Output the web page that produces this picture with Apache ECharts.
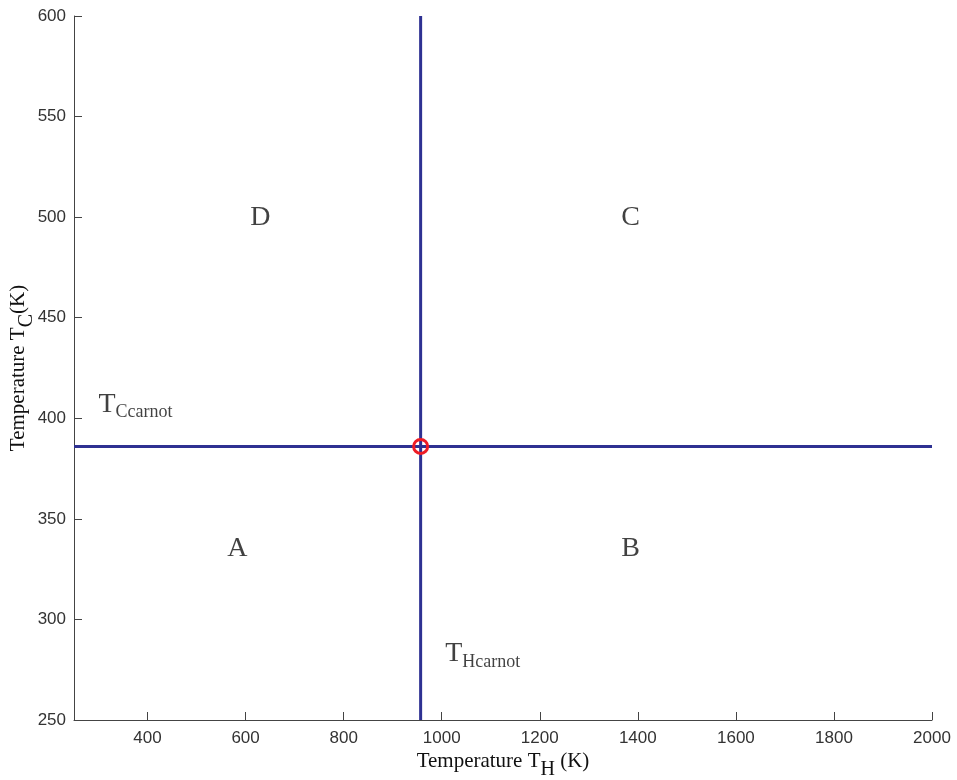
<!DOCTYPE html>
<html>
<head>
<meta charset="utf-8">
<script src="https://cdn.jsdelivr.net/npm/echarts@6/dist/echarts.min.js"></script>
<style>html,body{margin:0;padding:0;background:#fff}#c{width:957px;height:780px}</style>
</head>
<body>
<div id="c"></div>
<script>
// Data
const xTicks = [400, 600, 800, 1000, 1200, 1400, 1600, 1800, 2000];
const yTicks = [250, 300, 350, 400, 450, 500, 550, 600];
const carnotPoint = [957, 386];
const hLine = [[250, 386], [2000, 386]];
const vLine = [[957, 250], [957, 600]];
const regionLabels = ['A', 'B', 'C', 'D'];
const regionPos = [[583, 335], [1385, 335], [1385, 500], [630, 500]];
const carnotLabelNames = ['T_Ccarnot', 'T_Hcarnot'];
const carnotLabelPos = [[300, 406], [1007, 282]];

const serif = 'Liberation Serif';
const sans = 'Liberation Sans';
const blue = '#2E3192';
const txt = '#111';

const chart = echarts.init(document.getElementById('c'), null, {renderer: 'canvas'});

const subRich = {
  b: {fontFamily: serif, fontSize: 21, color: txt, verticalAlign: 'top'},
  s: {fontFamily: serif, fontSize: 20, color: txt, verticalAlign: 'top', padding: [9, 0, 0, 0]}
};

chart.setOption({
  animation: false,
  backgroundColor: '#fff',
  grid: {left: 74, right: 25, top: 16, bottom: 60, containLabel: false, outerBoundsMode: 'none'},
  xAxis: {
    type: 'value', min: 250, max: 2000,
    name: '{b|Temperature T}{s|H}{b| (K)}',
    nameLocation: 'middle', nameGap: 31, nameMoveOverlap: false,
    nameTextStyle: {rich: subRich},
    axisLine: {show: true, lineStyle: {color: '#444', width: 1}},
    axisTick: {show: true, inside: true, length: 8, lineStyle: {color: '#444'}, customValues: xTicks},
    axisLabel: {fontFamily: sans, fontSize: 17, color: '#333', margin: 10, customValues: xTicks,
      formatter: v => String(v)},
    splitLine: {show: false}
  },
  yAxis: {
    type: 'value', min: 250, max: 600, interval: 50,
    name: '{b|Temperature T}{s|C}{b|(K)}',
    nameLocation: 'middle', nameGap: 37, nameRotate: 90, nameMoveOverlap: false,
    nameTextStyle: {rich: subRich},
    axisLine: {show: true, lineStyle: {color: '#444', width: 1}},
    axisTick: {show: true, inside: true, length: 8, lineStyle: {color: '#444'}},
    axisLabel: {fontFamily: sans, fontSize: 17, color: '#333', margin: 8, customValues: yTicks,
      formatter: v => String(v)},
    splitLine: {show: false}
  },
  series: [
    {type: 'line', data: hLine, symbol: 'none', lineStyle: {color: blue, width: 3}, z: 2},
    {type: 'line', data: vLine, symbol: 'none', lineStyle: {color: blue, width: 3}, z: 2},
    {type: 'scatter', data: [carnotPoint], symbol: 'circle', symbolSize: 14,
      itemStyle: {color: 'rgba(0,0,0,0)', borderColor: '#EE1C25', borderWidth: 3, opacity: 1}, z: 5},
    {type: 'scatter', symbolSize: 0, z: 4,
      data: regionLabels.map((n, i) => ({name: n, value: regionPos[i]})),
      label: {show: true, position: 'inside', formatter: p => p.name,
        fontFamily: serif, fontSize: 28, color: txt}},
    {type: 'scatter', symbolSize: 0, z: 4,
      data: carnotLabelNames.map((n, i) => ({name: n, value: carnotLabelPos[i]})),
      label: {show: true, position: 'right', distance: 0,
        formatter: p => { const parts = p.name.split('_'); return '{T|' + parts[0] + '}{s|' + parts[1] + '}'; },
        rich: {
          T: {fontFamily: serif, fontSize: 28, color: txt, verticalAlign: 'top'},
          s: {fontFamily: serif, fontSize: 18, color: txt, verticalAlign: 'top', padding: [13, 0, 0, 0]}
        }}}
  ]
});
</script>
</body>
</html>
